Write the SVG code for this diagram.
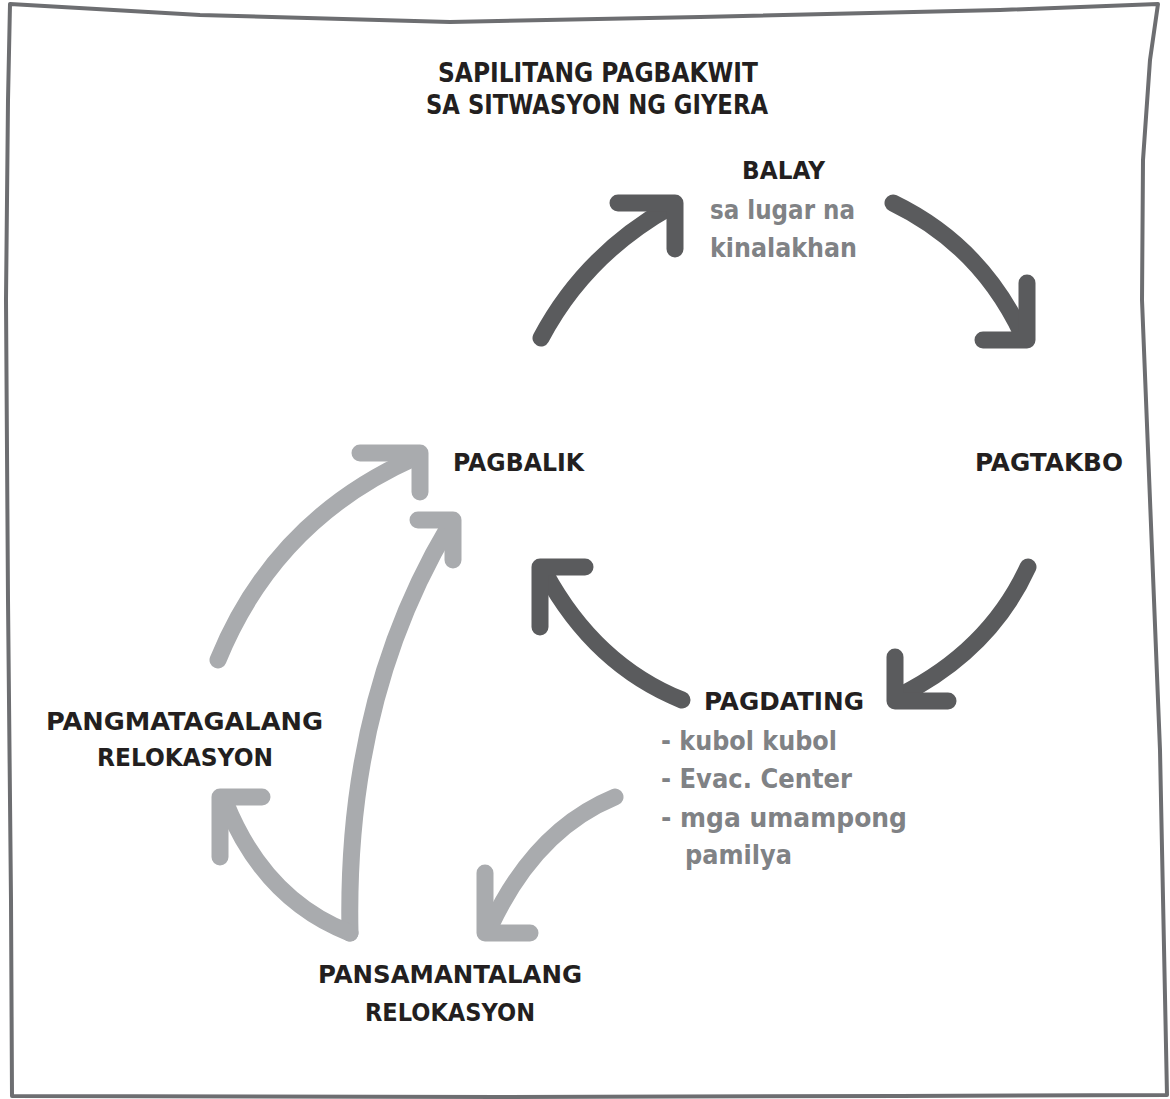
<svg xmlns="http://www.w3.org/2000/svg" width="1170" height="1099" viewBox="0 0 1170 1099">
  <style>
    .frame { fill: none; stroke: #6d6e71; stroke-width: 4; stroke-linejoin: round; }
    .dark { fill: none; stroke: #5a5b5d; stroke-width: 17; stroke-linecap: round; stroke-linejoin: round; }
    .light { fill: none; stroke: #a9abae; stroke-width: 17; stroke-linecap: round; stroke-linejoin: round; }
    .title { font-family: "DejaVu Sans", "Liberation Sans", sans-serif; font-weight: bold; font-size: 27px; fill: #231f20; }
    .label { font-family: "DejaVu Sans", "Liberation Sans", sans-serif; font-weight: bold; font-size: 24px; fill: #231f20; }
    .sub { font-family: "DejaVu Sans", "Liberation Sans", sans-serif; font-weight: bold; font-size: 27px; fill: #808285; }
  </style>

  <rect width="1170" height="1099" fill="#ffffff"/>

  <!-- hand-drawn frame -->
  <path class="frame" d="M10,4 L200,15 L450,22 L700,17 L1000,10 L1158,4 L1150,60 L1143,160 L1142,300 L1150,500 L1160,750 L1167,1095 L900,1096 L500,1097 L12,1096 L11,900 L8,600 L6,300 L8,100 Z"/>

  <!-- title -->
  <g id="title">
    <text class="title" x="438" y="82" textLength="320" lengthAdjust="spacingAndGlyphs">SAPILITANG PAGBAKWIT</text>
    <text class="title" x="426" y="114" textLength="342" lengthAdjust="spacingAndGlyphs">SA SITWASYON NG GIYERA</text>
  </g>

  <!-- nodes -->
  <g id="balay">
    <text class="label" x="742" y="179" textLength="83" lengthAdjust="spacingAndGlyphs">BALAY</text>
    <text class="sub" x="710" y="219" textLength="145" lengthAdjust="spacingAndGlyphs">sa lugar na</text>
    <text class="sub" x="710" y="257" textLength="147" lengthAdjust="spacingAndGlyphs">kinalakhan</text>
  </g>
  <g id="pagtakbo">
    <text class="label" x="975" y="471" textLength="148" lengthAdjust="spacingAndGlyphs">PAGTAKBO</text>
  </g>
  <g id="pagbalik">
    <text class="label" x="453" y="471" textLength="131" lengthAdjust="spacingAndGlyphs">PAGBALIK</text>
  </g>
  <g id="pagdating">
    <text class="label" x="704" y="710" textLength="160" lengthAdjust="spacingAndGlyphs">PAGDATING</text>
    <text class="sub" x="661" y="750" textLength="176" lengthAdjust="spacingAndGlyphs">- kubol kubol</text>
    <text class="sub" x="661" y="788" textLength="191" lengthAdjust="spacingAndGlyphs">- Evac. Center</text>
    <text class="sub" x="661" y="827" textLength="246" lengthAdjust="spacingAndGlyphs">- mga umampong</text>
    <text class="sub" x="685" y="864" textLength="107" lengthAdjust="spacingAndGlyphs">pamilya</text>
  </g>
  <g id="pangmatagalang">
    <text class="label" x="46" y="730" textLength="277" lengthAdjust="spacingAndGlyphs">PANGMATAGALANG</text>
    <text class="label" x="97" y="766" textLength="176" lengthAdjust="spacingAndGlyphs">RELOKASYON</text>
  </g>
  <g id="pansamantalang">
    <text class="label" x="318" y="983" textLength="264" lengthAdjust="spacingAndGlyphs">PANSAMANTALANG</text>
    <text class="label" x="365" y="1021" textLength="170" lengthAdjust="spacingAndGlyphs">RELOKASYON</text>
  </g>

  <!-- connectors: curved shafts with open L-shaped heads -->
  <g id="connectors">
    <!-- pagbalik to balay -->
    <path class="dark" d="M541,338 Q585,255 670,207"/>
    <path class="dark" d="M618,203 L675,203 L675,249"/>
    <!-- balay to pagtakbo -->
    <path class="dark" d="M893,203 Q980,245 1022,334"/>
    <path class="dark" d="M1027,283 L1027,340 L983,340"/>
    <!-- pagtakbo to pagdating -->
    <path class="dark" d="M1028,567 Q990,650 901,695"/>
    <path class="dark" d="M895,657 L895,701 L948,701"/>
    <!-- pagdating to pagbalik -->
    <path class="dark" d="M682,700 Q595,665 545,573"/>
    <path class="dark" d="M585,567 L540,567 L540,627"/>
    <!-- pangmatagalang to pagbalik -->
    <path class="light" d="M218,660 Q275,520 414,458"/>
    <path class="light" d="M360,453 L420,453 L420,492"/>
    <!-- pansamantalang to pagbalik -->
    <path class="light" d="M350,933 Q345,700 449,526"/>
    <path class="light" d="M418,520 L453,520 L453,560"/>
    <!-- pansamantalang to pangmatagalang -->
    <path class="light" d="M350,933 Q265,900 226,804"/>
    <path class="light" d="M262,797 L220,797 L220,857"/>
    <!-- pagdating to pansamantalang -->
    <path class="light" d="M615,797 Q535,830 490,927"/>
    <path class="light" d="M485,873 L485,933 L530,933"/>
  </g>
</svg>
